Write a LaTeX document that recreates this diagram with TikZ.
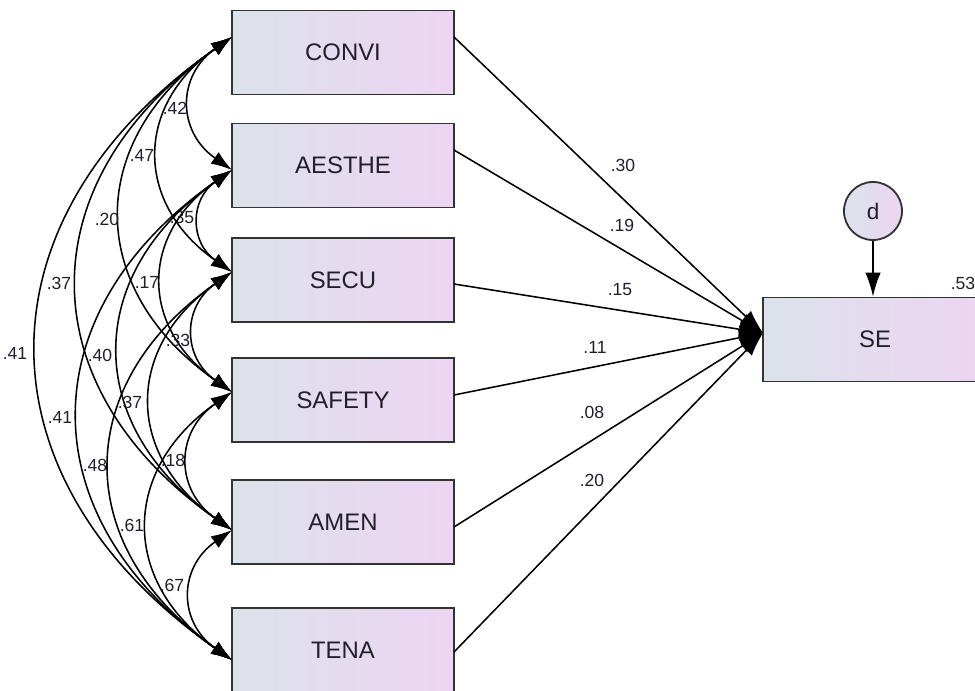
\documentclass[tikz,border=0pt]{standalone}
\usepackage{fontspec}
\setmainfont{Liberation Sans}
\usetikzlibrary{arrows.meta}
\definecolor{boxleft}{RGB}{220,226,234}
\definecolor{boxright}{RGB}{237,213,243}
\definecolor{ink}{RGB}{34,30,42}

\newcommand\DrawCov[4]{% from, to, value, label position
  \draw[cov] (#1-w) to (#2-w);
  \node[coef] (r-#1-#2) at (#4) {#3};
}

\begin{document}
\begin{tikzpicture}[x=0.025cm,y=-0.025cm, % one unit = one pixel
  obs/.style={draw=black!80,line width=1.3pt,left color=boxleft,right color=boxright,
    minimum width=5.55cm,minimum height=2.1cm,inner sep=0pt,text=ink,
    font=\fontsize{17}{17}\selectfont},
  err/.style={circle,draw=black!80,line width=1.3pt,left color=boxleft,right color=boxright,
    minimum size=1.45cm,inner sep=0pt,text=ink,font=\fontsize{16}{16}\selectfont},
  coef/.style={inner sep=1pt,text=ink,font=\fontsize{12.5}{12.5}\selectfont},
  reg/.style={-{Latex[length=17pt,width=11pt]},line width=1.1pt},
  cov/.style={{Latex[length=15pt,width=10pt]}-{Latex[length=15pt,width=10pt]},line width=1.1pt,
    bend right=55,looseness=1.3}]
\useasboundingbox (0,0) rectangle (975,691);

% observed variables
\foreach \n/\y in {CONVI/52.5,AESTHE/165.5,SECU/280,SAFETY/400,AMEN/522,TENA/650}
  \node[obs] (\n) at (343,\y) {\n};
\node[obs,minimum width=5.6cm] (SE) at (875,339.5) {SE};
\node[err] (d) at (873,211) {d};
\node[coef] (r2) at (963,283) {.53};

% anchor points on the left and right edges
\foreach \n/\y in {CONVI/37,AESTHE/170,SECU/272,SAFETY/392,AMEN/530,TENA/660}
  \coordinate (\n-w) at (232,\y);
\foreach \n/\y in {CONVI/37,AESTHE/150,SECU/284,SAFETY/395,AMEN/527,TENA/652}
  \coordinate (\n-e) at (454,\y);
\coordinate (SE-in) at (763,333);

% regression paths
\foreach \n/\v/\lx/\ly in {CONVI/.30/623/165,AESTHE/.19/622/225,SECU/.15/620/290,
    SAFETY/.11/595/347,AMEN/.08/592/412,TENA/.20/592/480} {
  \draw[reg] (\n-e) -- (SE-in);
  \node[coef] (b-\n) at (\lx,\ly) {\v};
}
\draw[reg] (d.south) -- (d.south |- SE.north);

% covariances
\DrawCov{CONVI}{AESTHE}{.42}{175,108}
\DrawCov{CONVI}{SECU}{.47}{142,155}
\DrawCov{CONVI}{SAFETY}{.20}{107,219}
\DrawCov{CONVI}{AMEN}{.37}{59,283}
\DrawCov{CONVI}{TENA}{.41}{15,353}
\DrawCov{AESTHE}{SECU}{.35}{182,217}
\DrawCov{AESTHE}{SAFETY}{.17}{147,282}
\DrawCov{AESTHE}{AMEN}{.40}{100,355}
\DrawCov{AESTHE}{TENA}{.41}{60,417}
\DrawCov{SECU}{SAFETY}{.33}{178,340}
\DrawCov{SECU}{AMEN}{.37}{130,402}
\DrawCov{SECU}{TENA}{.48}{95,465}
\DrawCov{SAFETY}{AMEN}{.18}{173,460}
\DrawCov{SAFETY}{TENA}{.61}{132,525}
\DrawCov{AMEN}{TENA}{.67}{172,585}
\end{tikzpicture}
\end{document}
